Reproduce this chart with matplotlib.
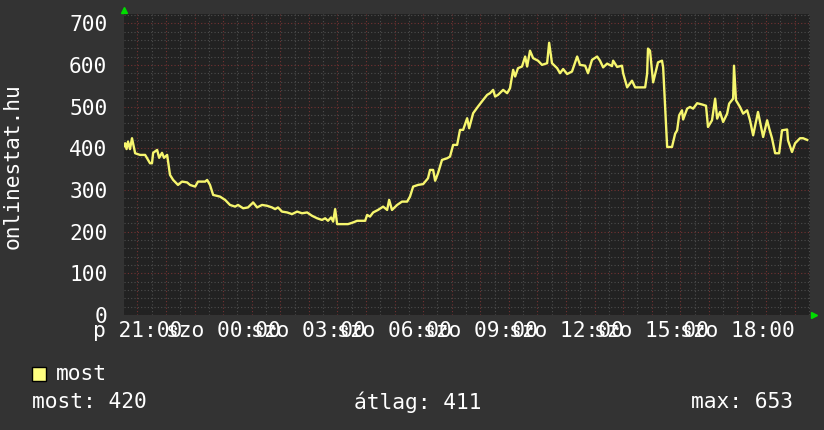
import matplotlib
matplotlib.use('Agg')
import matplotlib.pyplot as plt
from matplotlib.ticker import MultipleLocator, FuncFormatter
from matplotlib.patches import Rectangle

## data: time in hours from the first day's midnight, users online
hours = [
    20.53, 20.57, 20.62, 20.67, 20.74, 20.81, 20.92, 21.09, 21.27, 21.44,
    21.51, 21.55, 21.69, 21.76, 21.86, 21.93, 22.04, 22.14, 22.25, 22.42,
    22.56, 22.74, 22.84, 23.02, 23.12, 23.37, 23.44, 23.54, 23.65, 23.89,
    24.07, 24.24, 24.42, 24.52, 24.70, 24.87, 25.05, 25.19, 25.36, 25.54,
    25.71, 25.82, 25.92, 26.06, 26.24, 26.41, 26.59, 26.76, 26.94, 27.11,
    27.29, 27.46, 27.57, 27.67, 27.78, 27.85, 27.92, 27.99, 28.20, 28.37,
    28.55, 28.69, 28.97, 29.04, 29.14, 29.25, 29.42, 29.60, 29.74, 29.81,
    29.91, 30.09, 30.26, 30.44, 30.54, 30.65, 30.82, 31.00, 31.17, 31.24,
    31.35, 31.42, 31.52, 31.66, 31.84, 31.94, 32.05, 32.19, 32.29, 32.40,
    32.54, 32.61, 32.75, 32.92, 33.10, 33.24, 33.34, 33.45, 33.52, 33.62,
    33.80, 33.94, 34.04, 34.15, 34.22, 34.32, 34.46, 34.57, 34.64, 34.74,
    34.85, 35.02, 35.16, 35.34, 35.41, 35.51, 35.69, 35.79, 35.90, 36.04,
    36.21, 36.39, 36.49, 36.67, 36.77, 36.91, 37.09, 37.19, 37.30, 37.44,
    37.61, 37.65, 37.79, 37.96, 38.00, 38.14, 38.31, 38.42, 38.77, 38.84,
    38.87, 38.94, 39.05, 39.22, 39.36, 39.40, 39.54, 39.71, 39.82, 39.89,
    39.96, 40.06, 40.10, 40.24, 40.34, 40.45, 40.59, 40.76, 40.90, 40.97,
    41.11, 41.22, 41.29, 41.39, 41.50, 41.64, 41.71, 41.85, 41.88, 41.95,
    42.09, 42.20, 42.34, 42.44, 42.55, 42.72, 42.90, 43.04, 43.11, 43.21,
    43.32, 43.46, 43.56, 43.74, 43.77, 43.91, 44.02, 44.19, 44.30, 44.44,
]
online = [
    405, 412, 398, 416, 398, 424, 388, 384, 384, 364,
    364, 389, 396, 377, 389, 377, 384, 336, 324, 312,
    320, 318, 312, 308, 320, 320, 324, 312, 288, 284,
    276, 264, 260, 264, 256, 258, 270, 258, 264, 262,
    258, 254, 258, 248, 246, 242, 248, 244, 246, 238,
    232, 228, 232, 226, 234, 224, 254, 218, 218, 218,
    222, 226, 226, 240, 236, 246, 252, 260, 252, 276,
    252, 264, 272, 272, 284, 308, 312, 314, 328, 348,
    348, 322, 340, 372, 376, 380, 408, 408, 444, 444,
    472, 448, 484, 500, 516, 528, 532, 540, 524, 528,
    540, 532, 544, 588, 572, 592, 596, 620, 596, 634,
    616, 610, 600, 604, 653, 604, 592, 580, 590, 578,
    584, 620, 600, 598, 580, 612, 620, 610, 594, 603,
    597, 610, 595, 598, 580, 546, 562, 546, 546, 579,
    639, 634, 558, 606, 610, 594, 403, 403, 435, 443,
    479, 491, 469, 495, 499, 495, 508, 505, 502, 451,
    467, 519, 471, 487, 463, 483, 507, 519, 598, 515,
    499, 483, 491, 467, 431, 487, 427, 467, 448, 424,
    388, 388, 443, 445, 419, 391, 412, 424, 424, 420,
]
tick_hours = [21, 24, 27, 30, 33, 36, 39, 42]
tick_labels = ['p 21:00', 'szo 00:00', 'szo 03:00', 'szo 06:00',
               'szo 09:00', 'szo 12:00', 'szo 15:00', 'szo 18:00']
series_name = 'most'
stat_labels = ['most: 420', 'átlag: 411', 'max: 653']

## style
bg_outer = '#333333'
bg_plot = '#222222'
line_col = '#f6f66e'
major_col = '#733232'
minor_col = '#4d4d4d'
mono = ['DejaVu Sans Mono']
fs = 15.3

fig = plt.figure(figsize=(8.24, 4.30), dpi=100, facecolor=bg_outer)
ax = fig.add_axes([124 / 824, 115 / 430, 686 / 824, 301 / 430])
ax.set_facecolor(bg_plot)

ax.plot(hours, online, color=line_col, linewidth=1.7, zorder=3)

ax.set_xlim(20.53, 44.54)
ax.set_ylim(0, 722)

## grid: hour / half hour, 100 / 20
ax.xaxis.set_major_locator(MultipleLocator(1))
ax.xaxis.set_minor_locator(MultipleLocator(0.5))
ax.yaxis.set_major_locator(MultipleLocator(100))
ax.yaxis.set_minor_locator(MultipleLocator(20))
ax.grid(which='major', color=major_col, linestyle=(0, (1, 2)), linewidth=0.8)
ax.grid(which='minor', color=minor_col, linestyle=(0, (1, 2)), linewidth=0.8)
ax.set_axisbelow(True)

label_map = dict(zip(tick_hours, tick_labels))
ax.xaxis.set_major_formatter(FuncFormatter(lambda v, p: label_map.get(int(round(v)), '')))
ax.yaxis.set_major_formatter(FuncFormatter(lambda v, p: f'{int(v)}'))

ax.tick_params(which='both', length=0, colors='white', labelsize=fs)
ax.tick_params(axis='y', pad=12)
ax.tick_params(axis='x', pad=4)
for lab in ax.get_xticklabels() + ax.get_yticklabels():
    lab.set_family(mono)

for s in ax.spines.values():
    s.set_visible(False)

## y label
fig.text(13 / 824, 1 - 166 / 430, 'onlinestat.hu', rotation=90, color='white',
         family=mono, fontsize=fs, ha='center', va='center')

## axis arrows
fig.add_artist(plt.Line2D([124 / 824], [1 - 10 / 430], marker='^', color='#00dd00',
                          markersize=5, linestyle='none', transform=fig.transFigure))
fig.add_artist(plt.Line2D([814 / 824], [1 - 315 / 430], marker='>', color='#00dd00',
                          markersize=5, linestyle='none', transform=fig.transFigure))

## legend
fig.add_artist(Rectangle((32 / 824, 1 - 381 / 430), 14 / 824, 14 / 430,
                         facecolor='#ffff80', edgecolor='black', linewidth=1,
                         transform=fig.transFigure))
fig.text(56 / 824, 1 - 374 / 430, series_name, color='white', family=mono,
         fontsize=fs, ha='left', va='center')
fig.text(32 / 824, 1 - 402 / 430, stat_labels[0], color='white', family=mono,
         fontsize=fs, ha='left', va='center')
fig.text(354 / 824, 1 - 402 / 430, stat_labels[1], color='white', family=mono,
         fontsize=fs, ha='left', va='center')
fig.text(793 / 824, 1 - 402 / 430, stat_labels[2], color='white', family=mono,
         fontsize=fs, ha='right', va='center')

plt.savefig('out.png', dpi=100, facecolor=bg_outer)
